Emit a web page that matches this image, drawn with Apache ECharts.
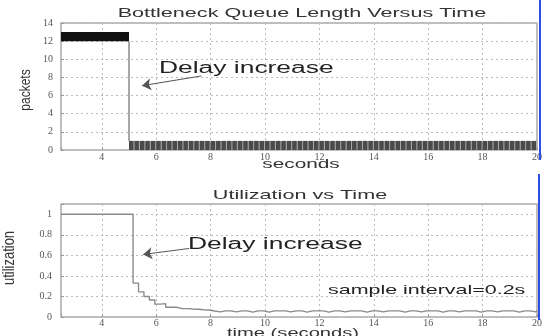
<!DOCTYPE html>
<html>
<head>
<meta charset="utf-8">
<script src="https://cdn.jsdelivr.net/npm/echarts@6/dist/echarts.min.js"></script>
<style>
html,body{margin:0;padding:0;background:#fff;}
#chart{width:545px;height:336px;}
</style>
</head>
<body>
<div id="chart"></div>
<script>
// ---------------- data ----------------
// Top: bottleneck queue length (packets). Early phase oscillates in a 12–13 band.
const queueEarlyStart = 2.5;
const queueEarlyEnd = 5.0;
const queueEarlyLow = 12;
const queueEarlyHigh = 13;
// After the delay increase the queue oscillates 0–1 packet; one entry per 0.2 s sample.
const queueLateStart = 5.0;
const queueSampleInterval = 0.2;
const queueLateMin = [0,0,0,0,0,0,0,0,0,0,0,0,0,0,0,0,0,0,0,0,0,0,0,0,0,0,0,0,0,0,0,0,0,0,0,0,0,0,0,0,0,0,0,0,0,0,0,0,0,0,0,0,0,0,0,0,0,0,0,0,0,0,0,0,0,0,0,0,0,0,0,0,0,0,0];
const queueLateMax = [1,1,1,1,1,1,1,1,1,1,1,1,1,1,1,1,1,1,1,1,1,1,1,1,1,1,1,1,1,1,1,1,1,1,1,1,1,1,1,1,1,1,1,1,1,1,1,1,1,1,1,1,1,1,1,1,1,1,1,1,1,1,1,1,1,1,1,1,1,1,1,1,1,1,1];
const queueDropTime = 5.0;

// Bottom: utilization, sampled every 0.2 s
const utilStartTime = 2.5;
const utilStartValue = 1.0;
const utilSampleStart = 5.15;
const utilSampleInterval = 0.2;
const utilValues = [
  0.33, 0.245, 0.20, 0.165, 0.125, 0.13, 0.095, 0.095, 0.082, 0.082,
  0.078, 0.075, 0.07, 0.068, 0.058, 0.05, 0.06, 0.06, 0.05, 0.06,
  0.06, 0.048, 0.06, 0.06, 0.048, 0.06, 0.06, 0.06, 0.05, 0.06,
  0.06, 0.048, 0.06, 0.06, 0.06, 0.048, 0.06, 0.06, 0.05, 0.06,
  0.06, 0.06, 0.048, 0.06, 0.06, 0.05, 0.06, 0.06, 0.06, 0.048,
  0.06, 0.06, 0.05, 0.06, 0.06, 0.06, 0.048, 0.06, 0.06, 0.05,
  0.06, 0.06, 0.06, 0.048, 0.06, 0.06, 0.05, 0.06, 0.06, 0.06,
  0.048, 0.06, 0.06, 0.05, 0.06
];
const utilEndTime = 20;

// axis ranges / ticks
const timeMin = 2.5, timeMax = 20, timeStep = 2;
const packetsMax = 14, packetsStep = 2;
const utilMax = 1.1, utilStep = 0.2;

// annotations (data coordinates)
const arrowTop = [[7.66, 8.16], [5.48, 7.09]];
const arrowBottom = [[7.21, 0.667], [5.52, 0.609]];

// ---------------- build ----------------
const queueEarlyRows = [[queueEarlyStart, queueEarlyEnd, queueEarlyLow, queueEarlyHigh]];
const queueLateRows = queueLateMax.map((hi, i) => [
  queueLateStart + i * queueSampleInterval,
  queueLateStart + (i + 1) * queueSampleInterval,
  queueLateMin[i], hi
]);
const utilData = [[utilStartTime, utilStartValue]];
utilValues.forEach((v, i) => utilData.push([+(utilSampleStart + i * utilSampleInterval).toFixed(2), v]));
utilData.push([utilEndTime, utilValues[utilValues.length - 1]]);

const chart = echarts.init(document.getElementById('chart'), null, {renderer: 'canvas'});

const serif = '"Liberation Serif", "DejaVu Serif", serif';
const sans = '"Liberation Sans", Arial, sans-serif';

function xAxisCfg(gridIndex, margin) {
  return {
    type: 'value', gridIndex, min: timeMin, max: timeMax,
    minInterval: timeStep, maxInterval: timeStep,
    axisLine: {show: false},
    axisTick: {show: true, inside: true, length: 3, lineStyle: {color: '#999'}},
    axisLabel: {
      margin, fontFamily: serif, fontSize: 10, color: '#555',
      formatter: v => (Math.abs(v / timeStep - Math.round(v / timeStep)) < 1e-6 ? String(v) : '')
    },
    splitLine: {show: true, lineStyle: {color: '#bbb', type: [2, 3], width: 1}}
  };
}

function bandItem(color, gapColor, gap) {
  return function (params, api) {
    const p0 = api.coord([api.value(0), api.value(3)]);
    const p1 = api.coord([api.value(1), api.value(2)]);
    const w = p1[0] - p0[0], h = p1[1] - p0[1];
    const children = [];
    if (gapColor) children.push({type: 'rect', shape: {x: p0[0], y: p0[1], width: w, height: h}, style: {fill: gapColor}});
    children.push({type: 'rect', shape: {x: p0[0], y: p0[1], width: Math.max(w - gap, 0.5), height: h}, style: {fill: color}});
    return {type: 'group', children};
  };
}

const arrowMark = (pts) => ({
  silent: true, symbol: ['none', 'arrow'], symbolSize: 9,
  label: {show: false},
  itemStyle: {color: '#333'},
  lineStyle: {color: '#555', width: 1, type: 'solid'},
  data: [[{coord: pts[0]}, {coord: pts[1]}]]
});

const option = {
  animation: false,
  backgroundColor: '#fff',
  grid: [
    {left: 61, right: 8, top: 23, height: 127, show: true, borderColor: '#aaa', borderWidth: 1.5},
    {left: 61, right: 8, top: 204, height: 113, show: true, borderColor: '#aaa', borderWidth: 1.5}
  ],
  xAxis: [xAxisCfg(0, 2), xAxisCfg(1, 1)],
  yAxis: [
    {
      type: 'value', gridIndex: 0, min: 0, max: packetsMax, interval: packetsStep,
      axisLine: {show: false},
      axisTick: {show: true, inside: true, length: 3, lineStyle: {color: '#999'}},
      axisLabel: {margin: 8, fontFamily: serif, fontSize: 10, color: '#555'},
      splitLine: {show: true, lineStyle: {color: '#bbb', type: [2, 3], width: 1}}
    },
    {
      type: 'value', gridIndex: 1, min: 0, max: utilMax, interval: utilStep,
      axisLine: {show: false},
      axisTick: {show: true, inside: true, length: 3, lineStyle: {color: '#999'}},
      axisLabel: {
        margin: 9, fontFamily: serif, fontSize: 10, color: '#555',
        formatter: v => (v > 1.0001 ? '' : String(+v.toFixed(1)))
      },
      splitLine: {show: true, lineStyle: {color: '#bbb', type: [2, 3], width: 1}}
    }
  ],
  series: [
    {
      type: 'custom', xAxisIndex: 0, yAxisIndex: 0, clip: true,
      renderItem: bandItem('#111', null, 0),
      encode: {x: [0, 1], y: [2, 3]},
      data: queueEarlyRows, z: 3
    },
    {
      type: 'custom', xAxisIndex: 0, yAxisIndex: 0, clip: true,
      renderItem: bandItem('#4a4a4a', '#a8a8a8', 1),
      encode: {x: [0, 1], y: [2, 3]},
      data: queueLateRows, z: 3
    },
    {
      type: 'line', xAxisIndex: 0, yAxisIndex: 0, symbol: 'none',
      lineStyle: {color: '#8a8a8a', width: 1.5},
      data: [[queueDropTime, queueEarlyLow], [queueDropTime, queueLateMax[0]]],
      z: 2,
      markLine: arrowMark(arrowTop)
    },
    {
      type: 'line', xAxisIndex: 1, yAxisIndex: 1, symbol: 'none', step: 'end',
      lineStyle: {color: '#8a8a8a', width: 1.4},
      data: utilData, z: 3,
      markLine: arrowMark(arrowBottom)
    }
  ],
  graphic: [
    {type: 'text', x: 302, y: 13.5, scaleX: 1.66, z: 10,
     style: {text: 'Bottleneck Queue Length Versus Time', font: '13px ' + sans, fill: '#333', align: 'center', verticalAlign: 'middle', textAlign: 'center', textVerticalAlign: 'middle'}},
    {type: 'text', x: 300, y: 195, scaleX: 1.66, z: 10,
     style: {text: 'Utilization vs Time', font: '13px ' + sans, fill: '#333', align: 'center', verticalAlign: 'middle', textAlign: 'center', textVerticalAlign: 'middle'}},
    {type: 'text', x: 159, y: 69, scaleX: 1.65, z: 10,
     style: {text: 'Delay increase', font: '16px ' + sans, fill: '#222', align: 'left', verticalAlign: 'middle', textAlign: 'left', textVerticalAlign: 'middle'}},
    {type: 'text', x: 188, y: 244.5, scaleX: 1.65, z: 10,
     style: {text: 'Delay increase', font: '16px ' + sans, fill: '#222', align: 'left', verticalAlign: 'middle', textAlign: 'left', textVerticalAlign: 'middle'}},
    {type: 'text', x: 328, y: 290.5, scaleX: 1.65, z: 10,
     style: {text: 'sample interval=0.2s', font: '13px ' + sans, fill: '#222', align: 'left', verticalAlign: 'middle', textAlign: 'left', textVerticalAlign: 'middle'}},
    {type: 'text', x: 301, y: 164, scaleX: 1.6, z: 10,
     style: {text: 'seconds', font: '13px ' + sans, fill: '#333', align: 'center', verticalAlign: 'middle', textAlign: 'center', textVerticalAlign: 'middle'}},
    {type: 'text', x: 293, y: 333, scaleX: 1.55, z: 10,
     style: {text: 'time (seconds)', font: '13px ' + sans, fill: '#333', align: 'center', verticalAlign: 'middle', textAlign: 'center', textVerticalAlign: 'middle'}},
    {type: 'text', x: 26, y: 90, rotation: Math.PI / 2, scaleY: 1.25, z: 10,
     style: {text: 'packets', font: '12px ' + sans, fill: '#333', align: 'center', verticalAlign: 'middle', textAlign: 'center', textVerticalAlign: 'middle'}},
    {type: 'text', x: 10, y: 258, rotation: Math.PI / 2, scaleY: 1.25, z: 10,
     style: {text: 'utilization', font: '13px ' + sans, fill: '#333', align: 'center', verticalAlign: 'middle', textAlign: 'center', textVerticalAlign: 'middle'}},
    {type: 'line', z: 20, shape: {x1: 540, y1: 0, x2: 540, y2: 160}, style: {stroke: '#2f4fe0', lineWidth: 2}},
    {type: 'line', z: 20, shape: {x1: 539, y1: 174, x2: 539, y2: 320}, style: {stroke: '#2f4fe0', lineWidth: 2}}
  ]
};
chart.setOption(option);
</script>
</body>
</html>
